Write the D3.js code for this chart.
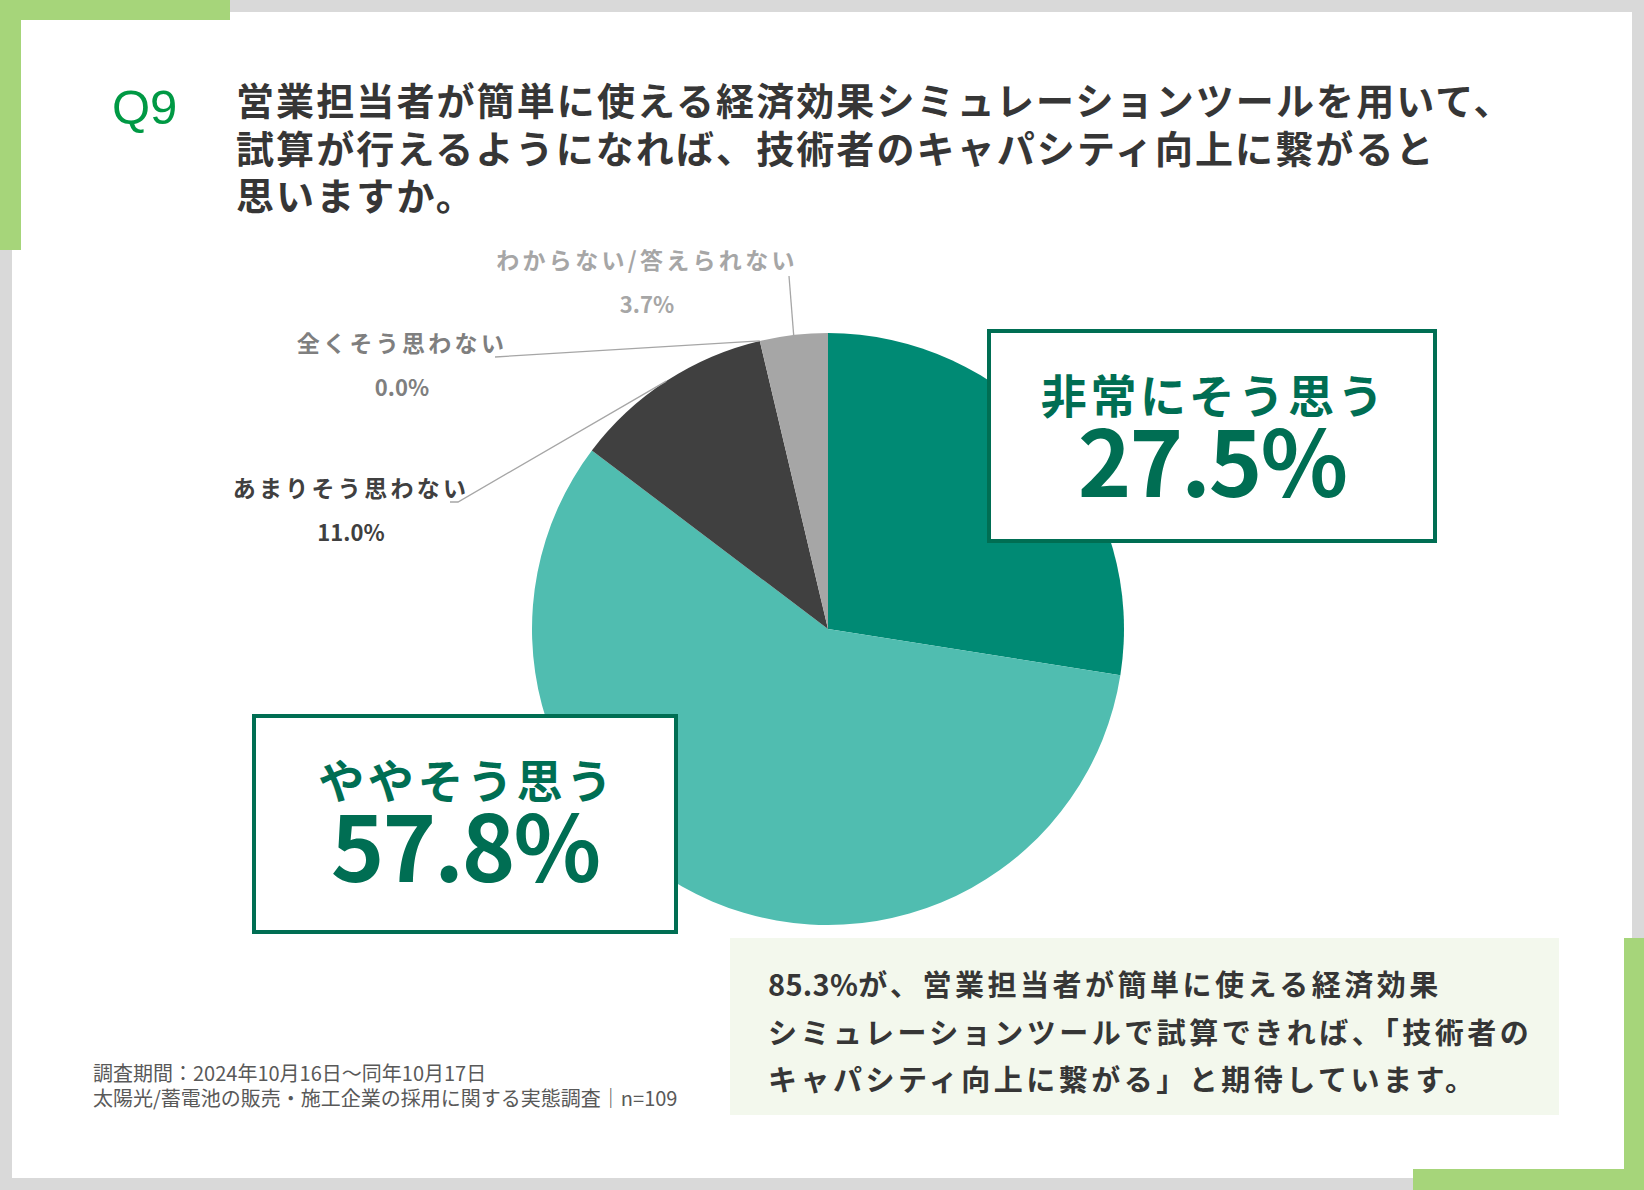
<!DOCTYPE html>
<html lang="ja">
<head>
<meta charset="utf-8">
<script src="https://cdn.jsdelivr.net/npm/d3@7"></script>
<style>
  body { margin: 0; background: #d9d9d9; }
  svg { display: block; font-family: "Noto Sans CJK JP", sans-serif; }
</style>
</head>
<body>
<div id="container"></div>
<script>
const categories = ["非常にそう思う", "ややそう思う", "あまりそう思わない", "全くそう思わない", "わからない/答えられない"];
const values = [27.5, 57.8, 11.0, 0.0, 3.7];
const sliceColors = ["#008a74", "#50bdb0", "#404040", "#7f7f7f", "#a6a6a6"];
const labelColors = ["#006e53", "#006e53", "#404040", "#7f7f7f", "#a6a6a6"];

const titleLines = [
  "営業担当者が簡単に使える経済効果シミュレーションツールを用いて、",
  "試算が行えるようになれば、技術者のキャパシティ向上に繋がると",
  "思いますか。"
];
// first piece of each line is set with tight spacing (numbers)
const noteLines = [
  ["85.3%", "が、営業担当者が簡単に使える経済効果"],
  ["", "シミュレーションツールで試算できれば、「技術者の"],
  ["", "キャパシティ向上に繋がる」と期待しています。"]
];
const footLines = [
  "調査期間：2024年10月16日～同年10月17日",
  "太陽光/蓄電池の販売・施工企業の採用に関する実態調査｜n=109"
];

const width = 1644;
const height = 1190;
const cx = 828, cy = 629, radius = 296;
const green = "#a6d57a";

const svg = d3.select("#container")
  .append("svg")
  .attr("width", width)
  .attr("height", height);

// frame
svg.append("rect").attr("width", width).attr("height", height).attr("fill", "#d9d9d9");
svg.append("rect").attr("x", 12).attr("y", 12).attr("width", 1620).attr("height", 1166).attr("fill", "#fff");
svg.append("rect").attr("x", 0).attr("y", 0).attr("width", 230).attr("height", 20).attr("fill", green);
svg.append("rect").attr("x", 0).attr("y", 0).attr("width", 21).attr("height", 250).attr("fill", green);
svg.append("rect").attr("x", 1624).attr("y", 938).attr("width", 20).attr("height", 252).attr("fill", green);
svg.append("rect").attr("x", 1413).attr("y", 1169).attr("width", 231).attr("height", 21).attr("fill", green);

// title
svg.append("text")
  .attr("x", 112).attr("y", 124)
  .attr("font-family", "Liberation Sans, Arial, sans-serif")
  .attr("font-size", 49)
  .attr("fill", "#009944")
  .text("Q9");

svg.append("g")
  .selectAll("text")
  .data(titleLines)
  .join("text")
  .attr("x", 236)
  .attr("y", (d, i) => 115 + i * 47.5)
  .attr("font-size", 38)
  .attr("font-weight", 700)
  .attr("letter-spacing", 2.1)
  .attr("fill", "#363636")
  .text(d => d);

// pie
const pie = d3.pie().sort(null).value(d => d);
const arcs = pie(values);
const arc = d3.arc().innerRadius(0).outerRadius(radius);

const chart = svg.append("g").attr("transform", `translate(${cx},${cy})`);

chart.selectAll("path")
  .data(arcs)
  .join("path")
  .attr("d", arc)
  .attr("fill", (d, i) => sliceColors[i]);

// small labels with leader lines
const onArc = a => [cx + Math.sin(a) * radius, cy - Math.cos(a) * radius];
const smallLabels = [
  { i: 2, x: 351, y: 497, from: [[450, 502], [458, 502]], angle: d => (d.startAngle + d.endAngle) / 2 },
  { i: 3, x: 402, y: 352, from: [[495, 357]], angle: d => d.startAngle },
  { i: 4, x: 647, y: 269, from: [[789, 276]], angle: d => (d.startAngle + d.endAngle) / 2 }
];

const line = d3.line();
svg.append("g")
  .selectAll("path")
  .data(smallLabels)
  .join("path")
  .attr("d", s => line([...s.from, onArc(s.angle(arcs[s.i]))]))
  .attr("fill", "none")
  .attr("stroke", "#a6a6a6")
  .attr("stroke-width", 1.3);

const small = svg.append("g")
  .selectAll("g")
  .data(smallLabels)
  .join("g")
  .attr("fill", s => labelColors[s.i])
  .attr("font-weight", 700)
  .attr("text-anchor", "middle");

small.append("text")
  .attr("x", s => s.x)
  .attr("y", s => s.y)
  .attr("font-size", 23)
  .attr("letter-spacing", 3.3)
  .text(s => categories[s.i]);

small.append("text")
  .attr("x", s => s.x)
  .attr("y", s => s.y + 44)
  .attr("font-size", 22)
  .text(s => values[s.i].toFixed(1) + "%");

// callout boxes
const callouts = [
  { i: 0, x: 989, y: 331, w: 446, h: 210 },
  { i: 1, x: 254, y: 716, w: 422, h: 216 }
];

const box = svg.append("g")
  .selectAll("g")
  .data(callouts)
  .join("g");

box.append("rect")
  .attr("x", c => c.x).attr("y", c => c.y)
  .attr("width", c => c.w).attr("height", c => c.h)
  .attr("fill", "#fff")
  .attr("stroke", "#006e53")
  .attr("stroke-width", 4);

box.append("text")
  .attr("x", c => c.x + c.w / 2 + 2)
  .attr("y", c => c.y + 82)
  .attr("text-anchor", "middle")
  .attr("font-size", 46)
  .attr("font-weight", 700)
  .attr("letter-spacing", 3.6)
  .attr("fill", c => labelColors[c.i])
  .text(c => categories[c.i]);

box.append("text")
  .attr("x", c => c.x + c.w / 2)
  .attr("y", c => c.y + 166)
  .attr("text-anchor", "middle")
  .attr("font-size", 91)
  .attr("font-weight", 700)
  .attr("letter-spacing", -2)
  .attr("fill", c => labelColors[c.i])
  .text(c => values[c.i].toFixed(1) + "%");

// note box
svg.append("rect")
  .attr("x", 730).attr("y", 938)
  .attr("width", 829).attr("height", 177)
  .attr("fill", "#f3f8ed");

const note = svg.append("g")
  .selectAll("text")
  .data(noteLines)
  .join("text")
  .attr("x", 768)
  .attr("y", (d, i) => 996 + i * 47.5)
  .attr("font-size", 29)
  .attr("font-weight", 700)
  .attr("fill", "#363636");

note.append("tspan")
  .attr("letter-spacing", 0.3)
  .text(d => d[0]);

note.append("tspan")
  .attr("letter-spacing", 3.5)
  .text(d => d[1]);

// footer
svg.append("g")
  .selectAll("text")
  .data(footLines)
  .join("text")
  .attr("x", 93)
  .attr("y", (d, i) => 1081 + i * 25)
  .attr("font-size", 20)
  .attr("fill", "#595959")
  .text(d => d);
</script>
</body>
</html>
